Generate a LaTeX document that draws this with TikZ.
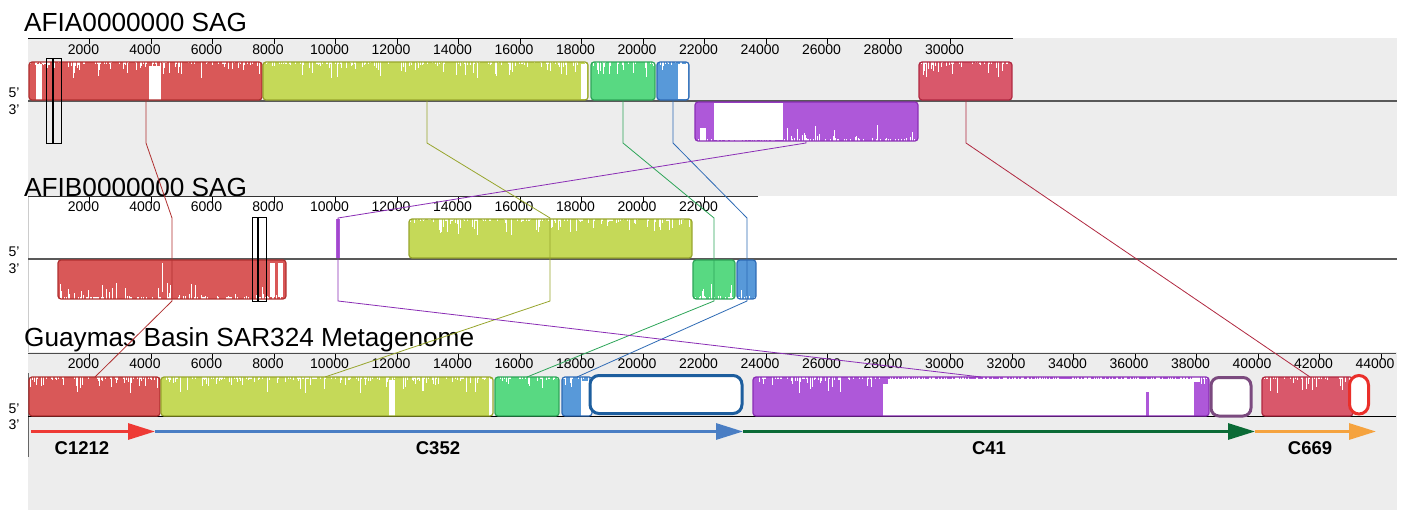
\documentclass[tikz,border=0pt]{standalone}
\usepackage{fontspec}
\setmainfont{Liberation Sans}
\usetikzlibrary{arrows.meta}
\definecolor{bgG}{HTML}{EDEDED}
\definecolor{redF}{HTML}{D95858}
\definecolor{redB}{HTML}{B03030}
\definecolor{yelF}{HTML}{C5D958}
\definecolor{yelB}{HTML}{97A52C}
\definecolor{grnF}{HTML}{58D982}
\definecolor{grnB}{HTML}{2DA558}
\definecolor{bluF}{HTML}{5899D9}
\definecolor{bluB}{HTML}{2D6AB5}
\definecolor{purF}{HTML}{AE58D9}
\definecolor{purB}{HTML}{8A2DB5}
\definecolor{pnkF}{HTML}{D9586B}
\definecolor{pnkB}{HTML}{B02840}
\definecolor{boxBlue}{HTML}{1D5E9E}
\definecolor{boxPur}{HTML}{7B4A7F}
\definecolor{ovalRed}{HTML}{EA2F2A}
\definecolor{arRed}{HTML}{EE3A35}
\definecolor{arBlue}{HTML}{4A7EC4}
\definecolor{arGreen}{HTML}{0B6B36}
\definecolor{arOrange}{HTML}{F5A33F}
% forward block: spikes from the top
\newcommand{\fblk}[7]{%
  \begin{scope}
    \clip[rounded corners=3pt] (#1,#2) rectangle (#3,#4);
    \fill[#5] (#1,#2) rectangle (#3,#4);
    \pgfmathtruncatemacro\nspk{max(2,(#3-#1)/2)}
    \foreach \k in {1,...,\nspk}{%
      \pgfmathsetmacro\xx{#1+1+rnd*(#3-#1-2)}%
      \pgfmathsetmacro\rr{rnd}%
      \pgfmathsetmacro\ll{1.5+15*\rr*\rr*\rr*\rr*\rr}%
      \draw[white, line width=0.7pt] (\xx,#2) -- ++(0,\ll);
    }
    #7
  \end{scope}
  \draw[#6, line width=1.2pt, rounded corners=3pt] (#1,#2) rectangle (#3,#4);
}
% reverse block: spikes from the bottom
\newcommand{\rblk}[7]{%
  \begin{scope}
    \clip[rounded corners=3pt] (#1,#2) rectangle (#3,#4);
    \fill[#5] (#1,#2) rectangle (#3,#4);
    \pgfmathtruncatemacro\nspk{max(2,(#3-#1)/2)}
    \foreach \k in {1,...,\nspk}{%
      \pgfmathsetmacro\xx{#1+1+rnd*(#3-#1-2)}%
      \pgfmathsetmacro\rr{rnd}%
      \pgfmathsetmacro\ll{1.5+15*\rr*\rr*\rr*\rr*\rr}%
      \draw[white, line width=0.7pt] (\xx,#4) -- ++(0,-\ll);
    }
    #7
  \end{scope}
  \draw[#6, line width=1.2pt, rounded corners=3pt] (#1,#2) rectangle (#3,#4);
}
\begin{document}
\begin{tikzpicture}[x=1pt,y=-1pt,
  title/.style={font=\fontsize{26.2}{28}\selectfont, inner sep=0pt, anchor=base west},
  ticklab/.style={font=\fontsize{14}{14}\selectfont, inner sep=0pt},
  strand/.style={font=\fontsize{14}{14}\selectfont, inner sep=0pt},
  lab/.style={font=\bfseries\fontsize{18.5}{20}\selectfont, inner sep=0pt},
  conn/.style={line width=0.8pt},
  arr/.style={line width=3pt, -{Triangle[length=27pt,width=16pt]}},
  outbox/.style={line width=3pt, fill=white}]
\pgfmathsetseed{4242}
\useasboundingbox (0,0) rectangle (1413,510);
\fill[white] (0,0) rectangle (1413,510);
% panel backgrounds
\fill[bgG] (28,38) rectangle (1397,196);
\fill[bgG] (28,352) rectangle (1397,510);
\draw[gray!40, line width=0.6pt] (28,197) -- (28,352);
\draw[black!60, line width=1pt] (28.5,373) -- (28.5,457);

% titles
\node[title] (tA) at (24,32) {AFIA0000000 SAG};
\node[title] (tB) at (24,196.5) {AFIB0000000 SAG};
\node[title] (tC) at (24,347) {Guaymas Basin SAR324 Metagenome};

% rulers
\draw[black, line width=1pt] (28,38.5) -- (1013,38.5);
\draw[black!80, line width=1pt] (28,197) -- (758,197);
\draw[black!70, line width=1pt] (28,354) -- (1396,354);
\foreach \v in {2,4,...,30}{
  \draw[black, line width=0.5pt] ({28+30.75*\v},38.5) -- ++(0,6);
  \node[ticklab] (rA\v) at ({22+30.75*\v},50) {\v000};
}
\foreach \v in {2,4,...,22}{
  \draw[black, line width=0.5pt] ({28+30.75*\v},197) -- ++(0,6);
  \node[ticklab] (rB\v) at ({22+30.75*\v},207) {\v000};
}
\foreach \v in {2,4,...,44}{
  \draw[black, line width=0.5pt] ({28+30.75*\v},354) -- ++(0,5);
  \node[ticklab] (rC\v) at ({22+30.75*\v},364) {\v000};
}

% strand labels
\node[strand] (s5A) at (14,93) {5’};
\node[strand] (s3A) at (14,109.5) {3’};
\node[strand] (s5B) at (14,251.5) {5’};
\node[strand] (s3B) at (14,268.5) {3’};
\node[strand] (s5C) at (14,409) {5’};
\node[strand] (s3C) at (14,425) {3’};

% center lines
\draw[black!65, line width=1.5pt] (28,101) -- (1397,101);
\draw[black!65, line width=1.5pt] (28,259) -- (1397,259);
\draw[black, line width=1pt] (28,416.5) -- (1396,416.5);

% ---- AFIA blocks
\fblk{29}{62}{262}{100}{redF}{redB}{\fill[white] (36,64) rectangle (42,100); \fill[white] (149,66) rectangle (161,100);}
\fblk{263}{62}{588}{100}{yelF}{yelB}{\fill[white] (581,64) rectangle (587,99);}
\fblk{591}{62}{655}{100}{grnF}{grnB}{}
\fblk{657}{62}{689}{100}{bluF}{bluB}{\fill[white] (678,64) rectangle (688,99);}
\fblk{919}{62}{1012}{100}{pnkF}{pnkB}{}
\rblk{695}{102}{918}{141}{purF}{purB}{\fill[white] (714,103) rectangle (783,140); \fill[white] (700,128) rectangle (706,141);}

% ---- AFIB blocks
\fill[purF] (336,219) rectangle (339.5,258);
\fblk{409}{219}{692}{258}{yelF}{yelB}{}
\rblk{58}{260}{286}{299}{redF}{redB}{\fill[white] (270,263) rectangle (275,297); \fill[white] (278,263) rectangle (283,297); \fill[white] (161.5,263) rectangle (163,292);}
\rblk{693}{260}{735}{299}{grnF}{grnB}{}
\rblk{737}{260}{756}{299}{bluF}{bluB}{}

% ---- Guaymas blocks
\fblk{29}{377}{160}{416}{redF}{redB}{}
\fblk{161}{377}{493}{416}{yelF}{yelB}{\fill[white] (389,380) rectangle (395,416); \fill[white] (489,379) rectangle (492.5,416);}
\fblk{495}{377}{559}{416}{grnF}{grnB}{}
\fblk{562}{377}{592}{416}{bluF}{bluB}{\fill[white] (581,381) rectangle (592,416);}
\fblk{753}{377}{1209}{416}{purF}{purB}{\fill[white] (888,379) rectangle (1194,416); \fill[white] (883,384) rectangle (888,416); \fill[purF] (1146,392) rectangle (1149,416); \fill[white] (1194,377) rectangle (1200,382);}
\fblk{1262}{377}{1353}{416}{pnkF}{pnkB}{}
\draw[outbox, draw=boxBlue, rounded corners=9pt] (590,375.5) rectangle (742,413.5);
\draw[outbox, draw=boxPur, rounded corners=8pt] (1211,377.5) rectangle (1251,416);
\draw[outbox, draw=ovalRed, rounded corners=9.5pt] (1349.5,375.5) rectangle (1368.5,414);

% ---- connector anchor points
\coordinate (rdA1) at (146,101);   \coordinate (rdA2) at (146,143);
\coordinate (rdB1) at (172,218);   \coordinate (rdB2) at (172,301);
\coordinate (rdC)  at (95,377);
\coordinate (ylA1) at (427,101);   \coordinate (ylA2) at (427,143);
\coordinate (ylB1) at (550,218);   \coordinate (ylB2) at (550,301);
\coordinate (ylC)  at (325,377);
\coordinate (gnA1) at (623,101);   \coordinate (gnA2) at (623,143);
\coordinate (gnB1) at (714,218);   \coordinate (gnB2) at (714,301);
\coordinate (gnC)  at (527,377);
\coordinate (buA1) at (673,101);   \coordinate (buA2) at (673,143);
\coordinate (buB1) at (747,218);   \coordinate (buB2) at (747,301);
\coordinate (buC)  at (577,377);
\coordinate (ppA1) at (806,141);   \coordinate (ppA2) at (806,143);
\coordinate (ppB1) at (338,218);   \coordinate (ppB2) at (338,301);
\coordinate (ppC)  at (981,377);
\coordinate (pkA1) at (966,101);   \coordinate (pkA2) at (966,143);
\coordinate (pkC)  at (1310,377);

\draw[conn, redB] (rdA1) -- (rdA2) -- (rdB1) -- (rdB2) -- (rdC);
\draw[conn, yelB] (ylA1) -- (ylA2) -- (ylB1) -- (ylB2) -- (ylC);
\draw[conn, grnB] (gnA1) -- (gnA2) -- (gnB1) -- (gnB2) -- (gnC);
\draw[conn, bluB] (buA1) -- (buA2) -- (buB1) -- (buB2) -- (buC);
\draw[conn, purB] (ppA1) -- (ppA2) -- (ppB1) -- (ppB2) -- (ppC);
\draw[conn, pnkB] (pkA1) -- (pkA2) -- (pkC);

% ---- selection boxes
\draw[black, line width=0.8pt] (46,58) rectangle (61,143);
\draw[black, line width=1.4pt] (53,58) -- (53,143);
\draw[black, line width=0.8pt] (252,217) rectangle (266,301);
\draw[black, line width=1.6pt] (258,217) -- (258,301);

% ---- contig arrows
\coordinate (a0) at (31,431.5);
\coordinate (a1) at (155,431.5);
\coordinate (a2) at (743,431.5);
\coordinate (a3) at (1255,431.5);
\coordinate (a4) at (1376,431.5);
\draw[arr, arRed] (a0) -- (a1);
\draw[arr, arBlue] (a1) -- (a2);
\draw[arr, arGreen] (a2) -- (a3);
\draw[arr, arOrange] (a3) -- (a4);
\node[lab] (c1212) at (82,448) {C1212};
\node[lab] (c352) at (438,448) {C352};
\node[lab] (c41) at (989,448) {C41};
\node[lab] (c669) at (1310,448) {C669};
\end{tikzpicture}
\end{document}
